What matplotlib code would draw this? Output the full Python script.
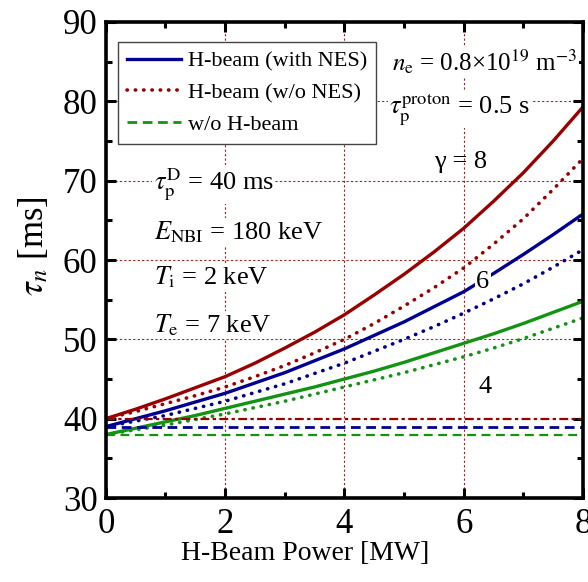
import numpy as np
import matplotlib
matplotlib.use("Agg")
import matplotlib.pyplot as plt
from matplotlib.ticker import MultipleLocator

plt.rcParams['font.family'] = ['Liberation Serif', 'DejaVu Serif']
plt.rcParams['mathtext.fontset'] = 'stix'

# H-beam power [MW]
power = [0, 0.5, 1, 1.5, 2, 2.5, 3, 3.5, 4, 4.5, 5, 5.5, 6, 6.5, 7, 7.5, 8]

# tau_n [ms] with NES (solid) and without NES (dotted), gamma = 8, 6, 4
g8_nes = [40.0, 41.2, 42.5, 43.9, 45.3, 47.0, 48.9, 50.9, 53.1,
          55.6, 58.2, 61.0, 64.0, 67.4, 71.0, 75.0, 79.3]
g8_nones = [40.0, 40.9, 41.9, 42.9, 44.0, 45.3, 46.7, 48.3, 50.0,
            52.0, 54.2, 56.5, 59.0, 62.0, 65.2, 68.9, 72.8]
g6_nes = [39.0, 40.0, 41.0, 42.1, 43.2, 44.5, 45.8, 47.3, 48.8,
          50.5, 52.2, 54.1, 56.0, 58.3, 60.7, 63.2, 65.8]
g6_nones = [39.0, 39.7, 40.4, 41.3, 42.2, 43.3, 44.4, 45.7, 47.0,
            48.5, 50.0, 51.6, 53.3, 55.1, 57.0, 59.1, 61.3]
g4_nes = [38.0, 38.8, 39.6, 40.4, 41.3, 42.2, 43.1, 44.0, 45.0,
          46.0, 47.1, 48.3, 49.5, 50.7, 52.0, 53.4, 54.8]
g4_nones = [38.0, 38.6, 39.2, 39.9, 40.6, 41.4, 42.2, 43.1, 44.0,
            44.9, 45.8, 46.8, 47.8, 48.9, 50.1, 51.4, 52.7]

# without H-beam (constant)
no_beam = {'g8': 40.0, 'g6': 39.0, 'g4': 38.0}

red = '#990000'
blue = '#000090'
green = '#129412'
grid_c = '#b02020'

fig = plt.figure(figsize=(5.88, 5.82), dpi=100)
ax = fig.add_axes([0.180, 0.1443, 0.8115, 0.8179])

# grid
for gx in [2, 4, 6]:
    ax.axvline(gx, color=grid_c, lw=0.8, ls=(0, (2, 2)), zorder=0)
for gy in [50, 60, 70, 80]:
    ax.axhline(gy, color=grid_c, lw=0.8, ls=(0, (2, 2)), zorder=0)

dot = dict(ls=(0, (0.1, 2.2)), lw=2.6, dash_capstyle='round')

ax.plot(power, g8_nes, color=red, lw=2.4)
ax.plot(power, g8_nones, color=red, **dot)
ax.plot(power, g6_nes, color=blue, lw=2.4, label='H-beam (with NES)')
ax.plot(power, g6_nones, color=blue, **dot)
ax.plot(power, g4_nes, color=green, lw=2.4)
ax.plot(power, g4_nones, color=green, **dot)

ax.axhline(no_beam['g8'], color=red, lw=1.6, ls=(0, (4, 1.5, 1.5, 1.5)))
ax.axhline(no_beam['g6'], color=blue, lw=2.0, ls=(0, (3.5, 2)))
ax.axhline(no_beam['g4'], color=green, lw=1.6, ls=(0, (4, 2.5)))

# legend proxies
ax.plot([], [], color=red, label='H-beam (w/o NES)', **dot)
ax.plot([], [], color=green, lw=2.0, ls=(0, (3.5, 2)), label='w/o H-beam')

ax.set_xlim(0, 8)
ax.set_ylim(30, 90)
ax.xaxis.set_major_locator(MultipleLocator(2))
ax.xaxis.set_minor_locator(MultipleLocator(1))
ax.yaxis.set_major_locator(MultipleLocator(10))
ax.yaxis.set_minor_locator(MultipleLocator(5))
ax.tick_params(which='both', direction='in', top=True, right=True, labelsize=25)
ax.tick_params(axis='x', which='both', pad=7)
ax.tick_params(axis='y', which='both', pad=6)
ax.tick_params(which='major', length=7, width=2.2)
ax.tick_params(which='minor', length=4, width=2.2)
for s in ax.spines.values():
    s.set_linewidth(2.6)

ax.set_xlabel('H-Beam Power [MW]', fontsize=20)
ax.xaxis.set_label_coords(0.417, -0.09)
ax.set_ylabel(r'$\tau_n$ [ms]', fontsize=25)
ax.yaxis.set_label_coords(-0.115, 0.53)

leg = ax.legend(loc='upper left', bbox_to_anchor=(0.025, 0.958), fontsize=16, frameon=True,
                fancybox=False, edgecolor='#444444', framealpha=1, handlelength=2.45,
                borderpad=0.4, labelspacing=0.5, handletextpad=0.3, borderaxespad=0)
leg.get_frame().set_linewidth(1.0)

box = dict(facecolor='white', edgecolor='none', pad=1)
ax.text(0.8, 69.5, r'$\tau_{\rm p}^{\rm D}$ = 40 ms', fontsize=19, va='center', bbox=box)
ax.text(0.8, 63.5, r'$E_{\rm NBI}$ = 180 keV', fontsize=19, va='center', bbox=box)
ax.text(0.8, 57.8, r'$T_{\rm i}$ = 2 keV', fontsize=19, va='center', bbox=box)
ax.text(0.8, 51.8, r'$T_{\rm e}$ = 7 keV', fontsize=19, va='center', bbox=box)
ax.text(4.8, 85.0, r'$n_{\rm e}$ = 0.8×10$^{19}$ m$^{-3}$', fontsize=18, va='center', bbox=box)
ax.text(4.75, 79.0, r'$\tau_{\rm p}^{\rm proton}$ = 0.5 s', fontsize=19, va='center', bbox=box)
ax.text(5.95, 72.3, 'γ = 8', fontsize=19, ha='center', va='center')
ax.text(6.32, 57.2, '6', fontsize=19, ha='center', va='center', bbox=box)
ax.text(6.36, 44.0, '4', fontsize=19, ha='center', va='center')

fig.savefig('out.png', dpi=100)
